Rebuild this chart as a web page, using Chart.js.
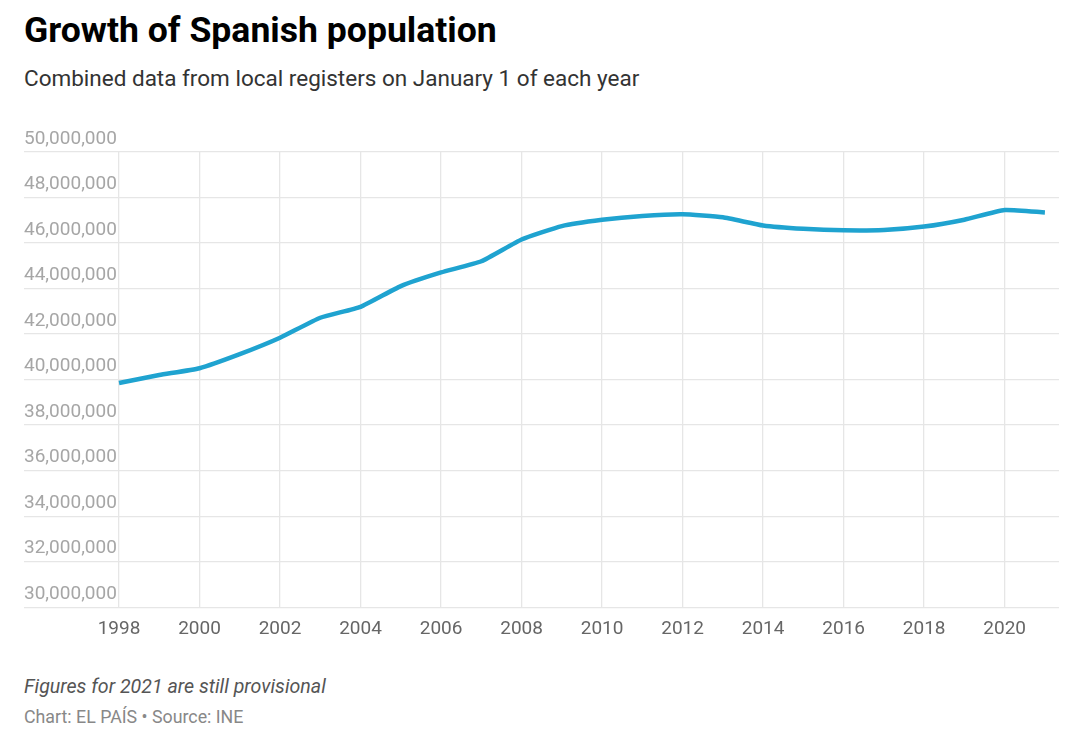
<!DOCTYPE html>
<html>
<head>
<meta charset="utf-8">
<script src="https://cdn.jsdelivr.net/npm/chart.js@4/dist/chart.umd.min.js"></script>
<style>
  html, body { margin: 0; padding: 0; background: #fff; }
  body { width: 1080px; height: 735px; position: relative; overflow: hidden; font-family: Roboto, "Noto Sans", sans-serif; }
  #title { position: absolute; left: 24px; top: 9px; font-size: 35.6px; font-weight: 700; color: #000; letter-spacing: 0px; }
  #subtitle { position: absolute; left: 24px; top: 65px; font-size: 22.5px; color: #333; }
  #note { position: absolute; left: 24px; top: 675px; font-size: 19.6px; font-style: italic; color: #555; }
  #credit { position: absolute; left: 24px; top: 706px; font-size: 17.8px; color: #888; }
  #wrap { position: absolute; left: 0; top: 100px; width: 1080px; height: 560px; }
</style>
</head>
<body>
<div id="title">Growth of Spanish population</div>
<div id="subtitle">Combined data from local registers on January 1 of each year</div>
<div id="wrap"><canvas id="c"></canvas></div>
<div id="note">Figures for 2021 are still provisional</div>
<div id="credit">Chart: EL PAÍS • Source: INE</div>
<script>
const years = [1998,1999,2000,2001,2002,2003,2004,2005,2006,2007,2008,2009,2010,2011,2012,2013,2014,2015,2016,2017,2018,2019,2020,2021];
const population = [39852651,40202160,40499791,41116842,41837894,42717064,43197684,44108530,44708964,45200737,46157822,46745807,47021031,47190493,47265321,47129783,46771341,46624382,46557008,46572132,46722980,47026208,47450795,47344649];
const yTicks = [30000000,32000000,34000000,36000000,38000000,40000000,42000000,44000000,46000000,48000000,50000000];
const xTicks = [1998,2000,2002,2004,2006,2008,2010,2012,2014,2016,2018,2020];

new Chart(document.getElementById('c'), {
  type: 'line',
  data: {
    datasets: [{
      data: years.map((y, i) => ({ x: y, y: population[i] })),
      borderColor: '#1fa3d0',
      borderWidth: 4.5,
      pointRadius: 0,
      tension: 0.15,
      fill: false
    }]
  },
  options: {
    responsive: true,
    maintainAspectRatio: false,
    animation: false,
    layout: { padding: { left: 24, right: 21, top: 52, bottom: 8 } },
    plugins: { legend: { display: false }, tooltip: { enabled: false } },
    scales: {
      x: {
        type: 'linear',
        min: 1995.64,
        max: 2021.35,
        afterBuildTicks: (s) => { s.ticks = xTicks.map(v => ({ value: v })); },
        grid: { color: '#e6e6e6', lineWidth: 1.3, drawTicks: false },
        border: { display: false },
        ticks: {
          padding: 11,
          color: '#666',
          font: { family: 'Roboto', size: 19 },
          callback: (v) => String(v),
          maxRotation: 0,
          autoSkip: false
        }
      },
      y: {
        min: 30000000,
        max: 50000000,
        afterBuildTicks: (s) => { s.ticks = yTicks.map(v => ({ value: v })); },
        grid: { color: '#e6e6e6', lineWidth: 1.3, drawTicks: false },
        border: { display: false },
        ticks: {
          mirror: true,
          padding: 0,
          labelOffset: -13,
          color: '#a6a6a6',
          font: { family: 'Roboto', size: 19 },
          callback: (v) => Number(v).toLocaleString('en-US')
        }
      }
    }
  }
});
</script>
</body>
</html>
